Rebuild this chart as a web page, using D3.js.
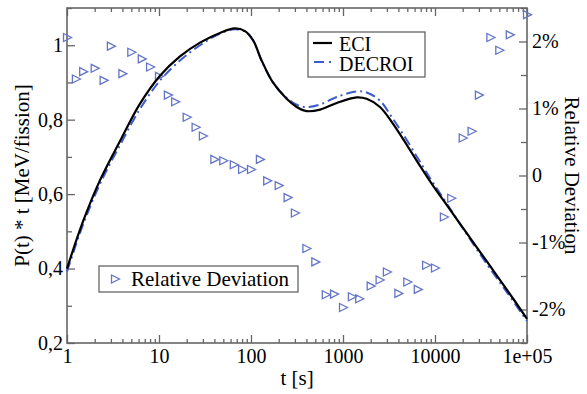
<!DOCTYPE html>
<html>
<head>
<meta charset="utf-8">
<script src="https://cdn.jsdelivr.net/npm/d3@7"></script>
<style>
  body { margin: 0; background: #fff; }
  text { font-family: "Liberation Serif", "Times New Roman", serif; }
</style>
</head>
<body>
<div id="chart"></div>
<script>
const width = 587
const height = 394
const margin = { left: 67, right: 60, top: 8, bottom: 51 }

// curves
const time_curve = [1, 1.49, 2.28, 3.76, 6.22, 10.25, 16.9, 27.9, 46, 66.5, 86, 105, 131, 173, 244, 314, 403, 565, 855, 1408, 1808, 2523, 3470, 4970, 6900, 9550, 13560, 22430, 37110, 61400, 100000]
const eci = [0.400, 0.526, 0.637, 0.742, 0.843, 0.918, 0.970, 1.007, 1.033, 1.045, 1.038, 1.014, 0.958, 0.900, 0.856, 0.834, 0.823, 0.827, 0.845, 0.860, 0.856, 0.834, 0.790, 0.731, 0.675, 0.622, 0.569, 0.493, 0.417, 0.341, 0.265]
const decroi = [0.392, 0.517, 0.627, 0.731, 0.829, 0.905, 0.959, 1.000, 1.031, 1.043, 1.037, 1.013, 0.957, 0.901, 0.859, 0.840, 0.834, 0.841, 0.861, 0.876, 0.873, 0.851, 0.803, 0.744, 0.686, 0.630, 0.573, 0.490, 0.410, 0.334, 0.259]

// relative deviation points [%]
const time_dev = [1, 1.25, 1.5, 2, 2.5, 3, 4, 5, 6.5, 8,
                  10, 12.5, 15, 20, 25, 30, 40, 50, 65, 80,
                  100, 125, 150, 200, 250, 300, 400, 500, 650, 800,
                  1000, 1250, 1500, 2000, 2500, 3000, 4000, 5000, 6500, 8000,
                  10000, 12500, 15000, 20000, 25000, 30000, 40000, 50000, 65000, 100000]
const deviation = [2.06, 1.44, 1.55, 1.60, 1.42, 1.93, 1.52, 1.84, 1.74, 1.62,
                   1.48, 1.20, 1.10, 0.87, 0.72, 0.59, 0.24, 0.22, 0.16, 0.09,
                   0.09, 0.24, -0.08, -0.15, -0.33, -0.56, -1.09, -1.29, -1.78, -1.77,
                   -1.97, -1.81, -1.84, -1.65, -1.56, -1.44, -1.76, -1.59, -1.70, -1.34,
                   -1.38, -0.62, -0.34, 0.56, 0.66, 1.20, 2.06, 1.87, 2.10, 2.40]

// ticks
const x_ticks = [1, 10, 100, 1000, 10000, 100000]
const x_tick_labels = ['1', '10', '100', '1000', '10000', '1e+05']
const y_ticks = [0.2, 0.4, 0.6, 0.8, 1.0]
const y_tick_labels = ['0,2', '0,4', '0,6', '0,8', '1']
const y_minor = [0.3, 0.5, 0.7, 0.9, 1.1]
const dev_ticks = [-2, -1, 0, 1, 2]
const dev_tick_labels = ['-2%', '-1%', '0', '1%', '2%']
const dev_minor = [-2.5, -1.5, -0.5, 0.5, 1.5, 2.5]

const x_minor = []
for (let d = 1; d < 100000; d *= 10) {
    for (let k = 2; k <= 9; k++) x_minor.push(d * k)
}

const svg = d3.select('#chart')
    .append('svg')
    .attr('width', width)
    .attr('height', height)
    .attr('font-family', '"Liberation Serif", "Times New Roman", serif')

const x = d3.scaleLog().domain([1, 100000]).range([margin.left, width - margin.right])
const y = d3.scaleLinear().domain([0.2, 1.1]).range([height - margin.bottom, margin.top])
const y_dev = d3.scaleLinear().domain([-2.5, 2.5]).range([height - margin.bottom, margin.top])

const x0 = margin.left, x1 = width - margin.right
const y0 = height - margin.bottom, y1 = margin.top
const axis_color = '#666'
const font_size = 20

function style_axis(g) {
    g.attr('font-family', null)
    g.select('.domain').remove()
    g.selectAll('line').attr('stroke', axis_color).attr('stroke-width', 1.3)
    g.selectAll('text').attr('font-size', font_size).attr('fill', '#000')
}

// bottom axis
svg.append('g').attr('transform', `translate(0,${y0})`)
    .call(d3.axisBottom(x).tickValues(x_ticks).tickSize(-8).tickPadding(6)
        .tickFormat((d, i) => x_tick_labels[i]))
    .call(style_axis)
svg.append('g').attr('transform', `translate(0,${y0})`)
    .call(d3.axisBottom(x).tickValues(x_minor).tickSize(-4).tickFormat(''))
    .call(style_axis)
// top axis
svg.append('g').attr('transform', `translate(0,${y1})`)
    .call(d3.axisTop(x).tickValues(x_ticks).tickSize(-8).tickFormat(''))
    .call(style_axis)
svg.append('g').attr('transform', `translate(0,${y1})`)
    .call(d3.axisTop(x).tickValues(x_minor).tickSize(-4).tickFormat(''))
    .call(style_axis)
// left axis
svg.append('g').attr('transform', `translate(${x0},0)`)
    .call(d3.axisLeft(y).tickValues(y_ticks).tickSize(-8).tickPadding(4)
        .tickFormat((d, i) => y_tick_labels[i]))
    .call(style_axis)
svg.append('g').attr('transform', `translate(${x0},0)`)
    .call(d3.axisLeft(y).tickValues(y_minor).tickSize(-5).tickFormat(''))
    .call(style_axis)
// right axis
svg.append('g').attr('transform', `translate(${x1},0)`)
    .call(d3.axisRight(y_dev).tickValues(dev_ticks).tickSize(-8).tickPadding(5)
        .tickFormat((d, i) => dev_tick_labels[i]))
    .call(style_axis)
svg.append('g').attr('transform', `translate(${x1},0)`)
    .call(d3.axisRight(y_dev).tickValues(dev_minor).tickSize(-6).tickFormat(''))
    .call(style_axis)

// frame
svg.append('rect')
    .attr('x', x0).attr('y', y1)
    .attr('width', x1 - x0).attr('height', y0 - y1)
    .attr('fill', 'none').attr('stroke', axis_color).attr('stroke-width', 1.6)

// deviation markers
const tri = 'M-3.5,-4L4.5,0L-3.5,4Z'
const marker_color = '#6475c8'
svg.append('g').selectAll('path')
    .data(time_dev.map((t, i) => ({ t: t, v: deviation[i] })))
    .enter()
    .append('path')
    .attr('d', tri)
    .attr('transform', d => `translate(${x(d.t)},${y_dev(d.v)})`)
    .attr('fill', 'none')
    .attr('stroke', marker_color)
    .attr('stroke-width', 1.3)

// curves
const line = d3.line()
    .x(d => x(d.t))
    .y(d => y(d.v))
    .curve(d3.curveCatmullRom.alpha(0.5))

const decroi_color = '#3d5ccc'
svg.append('path')
    .attr('d', line(time_curve.map((t, i) => ({ t: t, v: decroi[i] }))))
    .attr('fill', 'none')
    .attr('stroke', decroi_color)
    .attr('stroke-width', 2)
    .attr('stroke-dasharray', '10,4,2,4')
svg.append('path')
    .attr('d', line(time_curve.map((t, i) => ({ t: t, v: eci[i] }))))
    .attr('fill', 'none')
    .attr('stroke', '#000')
    .attr('stroke-width', 2.2)

// legend: curves
const legend = svg.append('g')
legend.append('rect')
    .attr('x', 308).attr('y', 32).attr('width', 117).attr('height', 45)
    .attr('fill', '#fff').attr('stroke', axis_color).attr('stroke-width', 1.3)
legend.append('line')
    .attr('x1', 313).attr('x2', 332).attr('y1', 43).attr('y2', 43)
    .attr('stroke', '#000').attr('stroke-width', 2.2)
legend.append('line')
    .attr('x1', 314).attr('x2', 334).attr('y1', 62).attr('y2', 62)
    .attr('stroke', decroi_color).attr('stroke-width', 2)
    .attr('stroke-dasharray', '10,5,2,4')
legend.append('text').attr('x', 339).attr('y', 51).attr('font-size', 20).text('ECI')
legend.append('text').attr('x', 339).attr('y', 71).attr('font-size', 20).text('DECROI')

// legend: deviation
const legend2 = svg.append('g')
legend2.append('rect')
    .attr('x', 99).attr('y', 266).attr('width', 199).attr('height', 26)
    .attr('fill', '#fff').attr('stroke', axis_color).attr('stroke-width', 1.3)
legend2.append('path')
    .attr('d', tri)
    .attr('transform', 'translate(115,279)')
    .attr('fill', 'none').attr('stroke', marker_color).attr('stroke-width', 1.3)
legend2.append('text').attr('x', 131).attr('y', 286).attr('font-size', 21).text('Relative Deviation')

// axis labels
svg.append('text')
    .attr('x', (x0 + x1) / 2).attr('y', 385)
    .attr('text-anchor', 'middle').attr('font-size', 21)
    .text('t [s]')
svg.append('text')
    .attr('transform', `translate(29,${(y0 + y1) / 2}) rotate(-90)`)
    .attr('text-anchor', 'middle').attr('font-size', 21)
    .text('P(t) * t [MeV/fission]')
svg.append('text')
    .attr('transform', `translate(565,${(y0 + y1) / 2}) rotate(90)`)
    .attr('text-anchor', 'middle').attr('font-size', 21)
    .text('Relative Deviation')
</script>
</body>
</html>
